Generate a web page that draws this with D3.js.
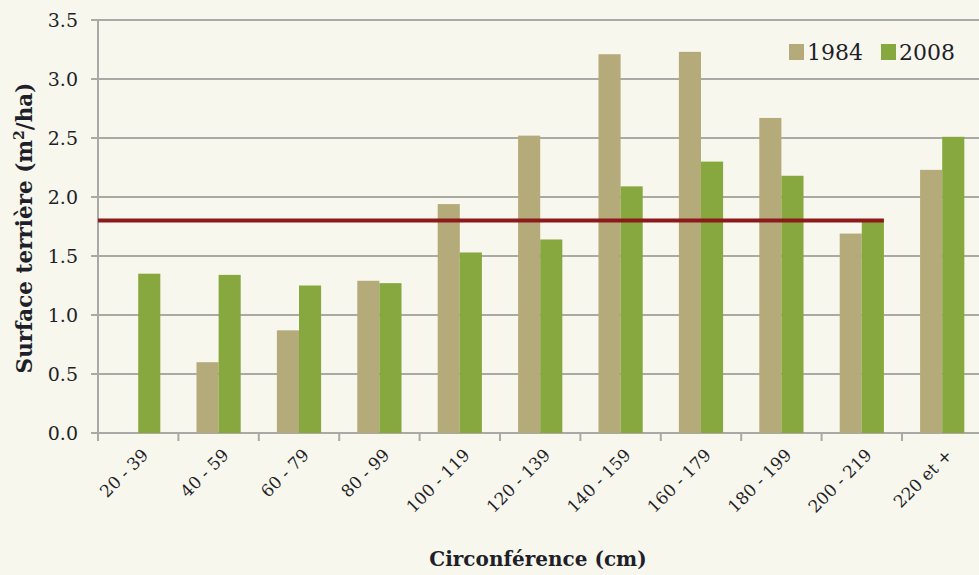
<!DOCTYPE html>
<html><head><meta charset="utf-8">
<script src="https://cdn.jsdelivr.net/npm/d3@7"></script>
<style>body{margin:0;background:#f8f7ed;}svg{display:block;}</style>
</head><body>
<svg id="c" width="979" height="575"></svg>
<script>
const categories = ["20 - 39","40 - 59","60 - 79","80 - 99","100 - 119","120 - 139","140 - 159","160 - 179","180 - 199","200 - 219","220 et +"];
const series1984 = [0, 0.60, 0.87, 1.29, 1.94, 2.52, 3.21, 3.23, 2.67, 1.69, 2.23];
const series2008 = [1.35, 1.34, 1.25, 1.27, 1.53, 1.64, 2.09, 2.30, 2.18, 1.80, 2.51];
const seriesNames = ["1984","2008"];
const yTicks = [0,0.5,1,1.5,2,2.5,3,3.5];
const refLine = 1.8;
const refLineEndCategory = "200 - 219";

const colors = {"1984":"#b5aa7a","2008":"#86a83e"};
const font = "'DejaVu Serif', serif";
const svg = d3.select("#c");
svg.append("rect").attr("width",979).attr("height",575).attr("fill","#f8f7ed");

const L=98, R=982.4, T=20, B=433;
const x = d3.scaleBand().domain(categories).range([L,R]).paddingInner(0.45).paddingOuter(0.225);
const x0 = d3.scaleBand().domain(categories).range([L,R]).padding(0);
const xs = d3.scaleBand().domain(seriesNames).range([0,x.bandwidth()]);
const y = d3.scaleLinear().domain([0,3.5]).range([B,T]);

// gridlines
svg.append("g").selectAll("line").data(yTicks).join("line")
  .attr("x1",L-7).attr("x2",R).attr("y1",d=>y(d)).attr("y2",d=>y(d))
  .attr("stroke","#a9a9a5").attr("stroke-width",2);

// y labels
svg.append("g").selectAll("text").data(yTicks).join("text")
  .attr("x",78).attr("y",d=>y(d)).attr("dy","0.35em").attr("text-anchor","end")
  .attr("font-family",font).attr("font-size",19).attr("fill","#1f1f2a")
  .text(d=>d.toFixed(1));

// bars
const data = [];
categories.forEach((c,i)=>{data.push({c,s:"1984",v:series1984[i]});data.push({c,s:"2008",v:series2008[i]});});
svg.append("g").selectAll("rect").data(data.filter(d=>d.v>0)).join("rect")
  .attr("x",d=>x(d.c)+xs(d.s)).attr("width",xs.bandwidth())
  .attr("y",d=>y(d.v)).attr("height",d=>y(0)-y(d.v))
  .attr("fill",d=>colors[d.s]);

// axes lines
svg.append("line").attr("x1",L).attr("x2",L).attr("y1",T).attr("y2",B).attr("stroke","#a9a9a5").attr("stroke-width",2);
const tickXs = categories.map(c=>x0(c));
svg.append("g").selectAll("line").data(tickXs).join("line")
  .attr("x1",d=>d).attr("x2",d=>d).attr("y1",B).attr("y2",B+8)
  .attr("stroke","#a9a9a5").attr("stroke-width",2);

// reference line
svg.append("line").attr("x1",L).attr("x2",x(refLineEndCategory)+x.bandwidth())
  .attr("y1",y(refLine)).attr("y2",y(refLine))
  .attr("stroke","#8c1a1a").attr("stroke-width",4);

// x labels
svg.append("g").selectAll("text").data(categories).join("text")
  .attr("transform",c=>`translate(${x0(c)+x0.bandwidth()/2+7},${B+19}) rotate(-45)`)
  .attr("text-anchor","end").attr("dy","0.35em")
  .attr("font-family",font).attr("font-size",17).attr("fill","#1f1f2a")
  .text(c=>c);

// axis titles
svg.append("text").attr("x",538).attr("y",566).attr("text-anchor","middle")
  .attr("font-family",font).attr("font-weight","bold").attr("font-size",20).attr("fill","#1f1f2a")
  .text("Circonférence (cm)");
const yt = svg.append("text").attr("transform","translate(32,228) rotate(-90)").attr("text-anchor","middle")
  .attr("font-family",font).attr("font-weight","bold").attr("font-size",21.5).attr("fill","#1f1f2a");
yt.append("tspan").text("Surface terrière (m");
yt.append("tspan").attr("dy",-8).attr("font-size",14).text("2");
yt.append("tspan").attr("dy",8).text("/ha)");

// legend
const leg = svg.append("g");
const legX = [789, 881];
seriesNames.forEach((s,i)=>{
  leg.append("rect").attr("x",legX[i]).attr("y",44).attr("width",15).attr("height",16).attr("fill",colors[s]);
  leg.append("text").attr("x",legX[i]+18).attr("y",52).attr("dy","0.35em")
    .attr("font-family",font).attr("font-size",22).attr("fill","#1f1f2a").text(s);
});
</script>
</body></html>
